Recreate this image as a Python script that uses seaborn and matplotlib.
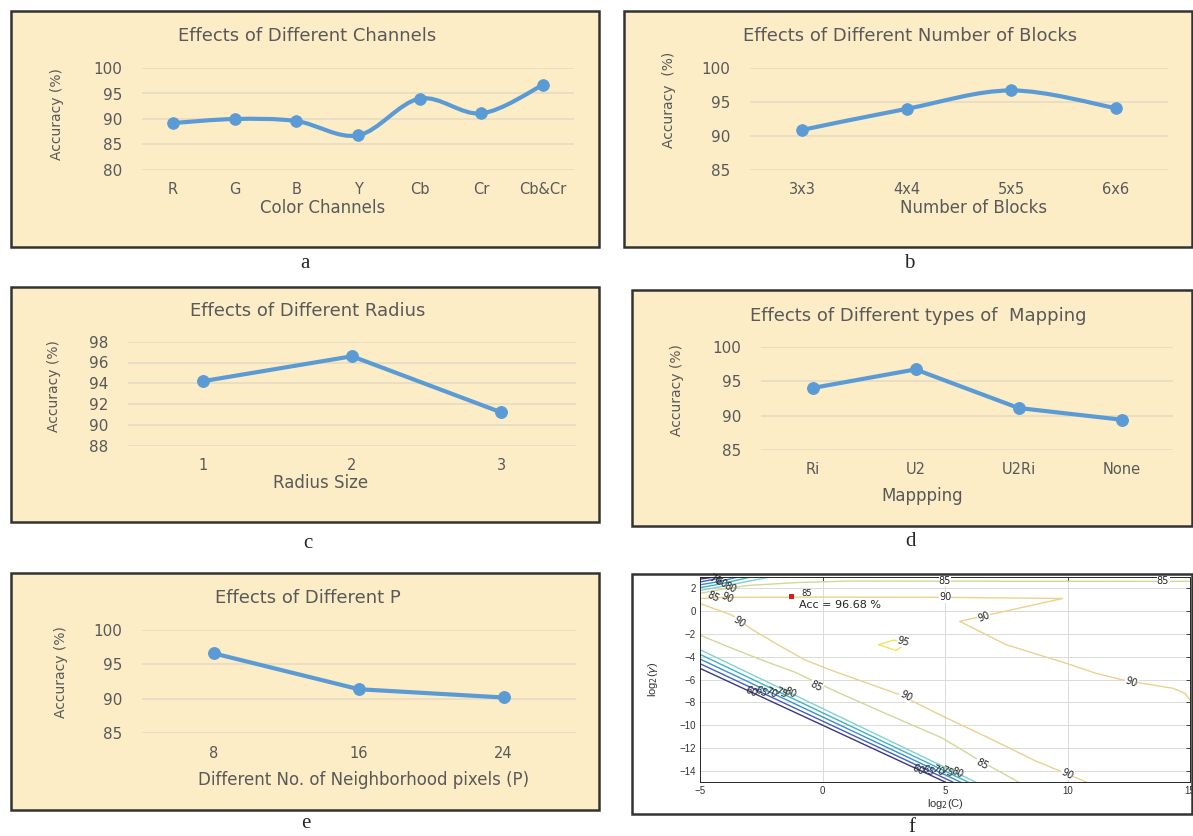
import numpy as np
import pandas as pd
import matplotlib
matplotlib.use('Agg')
import matplotlib.pyplot as plt
from matplotlib.patches import Rectangle, PathPatch
from matplotlib.path import Path
import seaborn as sns

# ---- data ----
# a: colour channels
channels = ['R', 'G', 'B', 'Y', 'Cb', 'Cr', 'Cb&Cr']
channel_acc = [89.2, 90.0, 89.6, 86.8, 94.0, 91.1, 96.7]
# b: number of blocks
blocks = ['3x3', '4x4', '5x5', '6x6']
block_acc = [90.9, 94.0, 96.7, 94.1]
# c: radius
radius = ['1', '2', '3']
radius_acc = [94.2, 96.6, 91.2]
# d: mapping type
mappings = ['Ri', 'U2', 'U2Ri', 'None']
mapping_acc = [94.0, 96.7, 91.1, 89.4]
# e: neighbourhood pixels
neighbors = ['8', '16', '24']
neighbor_acc = [96.6, 91.4, 90.2]

# f: contour lines of the grid search, points as (log2 C, log2 gamma)
c60 = [[(-5, -5.02), (5.03, -15)],
       [(-5, 2.8), (-4.6, 2.92), (-4.3, 3.0)]]
c65 = [[(-5, -4.61), (5.34, -15)],
       [(-5, 2.55), (-4.5, 2.75), (-3.9, 3.0)]]
c70 = [[(-5, -4.2), (5.65, -15)],
       [(-5, 2.3), (-4.3, 2.55), (-3.4, 3.0)]]
c75 = [[(-5, -3.79), (5.96, -15)],
       [(-5, 2.05), (-4.2, 2.35), (-2.9, 3.0)]]
c80 = [[(-5, -3.38), (6.27, -15)],
       [(-5, 1.8), (-4.1, 2.15), (-2.1, 3.0)]]
c85 = [[(-5, -2.1), (-3.86, -3.12), (-2.49, -4.28), (-1.13, -5.35), (0.5, -7.0),
        (2.39, -8.8), (4.87, -11.1), (6.5, -13.2), (8.02, -15)],
       [(-5, 1.55), (-4.0, 1.95), (-3.0, 2.25), (-1, 2.5), (1, 2.62), (15, 2.6)]]
c90 = [[(-5, 0.66), (-3.7, -0.36), (-2.83, -1.67), (-1.8, -2.97), (-0.72, -4.28),
        (0.5, -5.3), (3.12, -7.3), (4.9, -9.2), (6.77, -11.1), (8.67, -13.1), (10.8, -15)],
       [(-5, 1.1), (-4, 1.2), (0, 1.22), (5, 1.2), (9.8, 1.1), (5.6, -0.9), (7.5, -2.95),
        (8.85, -3.85), (9.94, -4.57), (11.16, -5.45), (12.38, -6.1), (14.3, -6.76),
        (14.8, -7.2), (15, -7.8)]]
c95 = [[(2.3, -2.95), (2.9, -2.55), (3.5, -2.75), (3.0, -3.45), (2.3, -2.95)]]
best_c, best_g = [-1.25], [1.3]

# ---- layout helpers (pixel space of a 1193x836 picture) ----
W, H = 1193, 836
BLUE = '#5b9bd5'
GRAY = '#595959'
CREAM = '#fcedc6'
GRID = '#e6dcc3'

sns.set_theme(style='white')
plt.rcParams['font.family'] = ['DejaVu Sans']

fig = plt.figure(figsize=(W / 100, H / 100), dpi=100)
fig.patch.set_facecolor('white')


def px_axes(l, t, r, b):
    return fig.add_axes([l / W, 1 - b / H, (r - l) / W, (b - t) / H])


def box(l, t, r, b, fc):
    fig.add_artist(Rectangle((l / W, 1 - b / H), (r - l) / W, (b - t) / H,
                             transform=fig.transFigure, fc=fc, ec='#333333',
                             lw=1.8, zorder=0))


def ftext(x, y, s, **kw):
    fig.text(x / W, 1 - y / H, s, ha='center', va='center', **kw)


def smooth_path(xs, ys):
    # Excel style smoothed line (Catmull-Rom as cubic Bezier)
    pts = np.column_stack([xs, ys]).astype(float)
    verts, codes = [pts[0]], [Path.MOVETO]
    n = len(pts)
    for i in range(n - 1):
        p0, p1, p2, p3 = pts[max(i - 1, 0)], pts[i], pts[i + 1], pts[min(i + 2, n - 1)]
        verts += [p1 + (p2 - p0) / 6, p2 - (p3 - p1) / 6, p2]
        codes += [Path.CURVE4] * 3
    return Path(verts, codes)


def excel_panel(rect, cats, vals, yticks, smooth=False):
    ax = px_axes(*rect)
    ax.set_facecolor('none')
    df = pd.DataFrame({'pos': range(len(cats)), 'acc': vals})
    if smooth:
        ax.add_patch(PathPatch(smooth_path(df['pos'], df['acc']), fill=False,
                               ec=BLUE, lw=3, zorder=3))
        sns.scatterplot(data=df, x='pos', y='acc', ax=ax, color=BLUE, s=70,
                        edgecolor=BLUE, zorder=4)
    else:
        sns.lineplot(data=df, x='pos', y='acc', ax=ax, color=BLUE, linewidth=3,
                     marker='o', markersize=8.5, markeredgecolor=BLUE, zorder=3)
    ax.set_xlim(-0.5, len(cats) - 0.5)
    ax.set_ylim(yticks[0], yticks[-1])
    ax.set_xticks(range(len(cats)))
    ax.set_xticklabels(cats)
    ax.set_yticks(yticks)
    ax.set_xlabel('')
    ax.set_ylabel('')
    ax.grid(axis='y', color=GRID, lw=1.2)
    ax.grid(axis='x', visible=False)
    ax.set_axisbelow(True)
    for s in ax.spines.values():
        s.set_visible(False)
    ax.tick_params(axis='x', length=0, pad=9, labelsize=10.5, labelcolor=GRAY)
    ax.tick_params(axis='y', length=0, pad=14, labelsize=11, labelcolor=GRAY)
    for lab in ax.get_yticklabels():
        lab.set_clip_on(False)
    return ax


# ---- a ----
box(11, 11, 599, 247, CREAM)
excel_panel((142, 68, 574, 170), channels, channel_acc, [80, 85, 90, 95, 100], smooth=True)
ftext(307, 36, 'Effects of Different Channels', fontsize=13, color=GRAY)
ftext(323, 208, 'Color Channels', fontsize=12, color=GRAY)
ftext(57, 114, 'Accuracy (%)', fontsize=10, color=GRAY, rotation=90)
ftext(305, 263, 'a', fontsize=15, family='Liberation Serif')

# ---- b ----
box(624, 11, 1192, 247, CREAM)
excel_panel((750, 68, 1168, 170), blocks, block_acc, [85, 90, 95, 100], smooth=True)
ftext(910, 36, 'Effects of Different Number of Blocks', fontsize=13, color=GRAY)
ftext(974, 208, 'Number of Blocks', fontsize=12, color=GRAY)
ftext(669, 100, 'Accuracy  (%)', fontsize=10, color=GRAY, rotation=90)
ftext(909, 263, 'b', fontsize=15, family='Liberation Serif')

# ---- c ----
box(11, 287, 599, 522, CREAM)
excel_panel((128, 341.7, 576, 445.7), radius, radius_acc, [88, 90, 92, 94, 96, 98])
ftext(308, 311, 'Effects of Different Radius', fontsize=13, color=GRAY)
ftext(321, 483, 'Radius Size', fontsize=12, color=GRAY)
ftext(54, 386, 'Accuracy (%)', fontsize=10, color=GRAY, rotation=90)
ftext(308, 544, 'c', fontsize=15, family='Liberation Serif')

# ---- d ----
box(632, 290, 1192, 526, CREAM)
excel_panel((761, 346.7, 1173, 450), mappings, mapping_acc, [85, 90, 95, 100])
ftext(918, 316, 'Effects of Different types of  Mapping', fontsize=13, color=GRAY)
ftext(922, 496, 'Mappping', fontsize=12, color=GRAY)
ftext(677, 390, 'Accuracy (%)', fontsize=10, color=GRAY, rotation=90)
ftext(910, 542, 'd', fontsize=15, family='Liberation Serif')

# ---- e ----
box(11, 573, 599, 810, CREAM)
excel_panel((141.6, 630, 576, 733.3), neighbors, neighbor_acc, [85, 90, 95, 100])
ftext(308, 598, 'Effects of Different P', fontsize=13, color=GRAY)
ftext(364, 780, 'Different No. of Neighborhood pixels (P)', fontsize=12, color=GRAY)
ftext(61, 672, 'Accuracy (%)', fontsize=10, color=GRAY, rotation=90)
ftext(306, 823, 'e', fontsize=15, family='Liberation Serif')

# ---- f: contour map ----
box(632, 574, 1192, 814, 'white')
axf = px_axes(700, 576.8, 1190, 782.3)
axf.set_facecolor('white')

rows = []
for level, paths in [(60, c60), (65, c65), (70, c70), (75, c75), (80, c80),
                     (85, c85), (90, c90), (95, c95)]:
    for k, path in enumerate(paths):
        for order, (xv, yv) in enumerate(path):
            rows.append({'level': level, 'path': f'{level}-{k}', 'order': order,
                         'x': xv, 'y': yv})
cdf = pd.DataFrame(rows)
level_colors = {60: '#3d3587', 65: '#3f5fbf', 70: '#3b8fd0', 75: '#3cb2c6',
                80: '#82d2cc', 85: '#d3d896', 90: '#ead28c', 95: '#f2e25c'}
sns.lineplot(data=cdf, x='x', y='y', hue='level', units='path', estimator=None,
             sort=False, palette=level_colors, linewidth=1.0, legend=False, ax=axf)

lab_kw = dict(fontsize=7, color='#222222', ha='center', va='center',
              rotation_mode='anchor')
box_kw = dict(fc='white', ec='none', pad=0.2)
for s, xv, yv, rot in [('85', 5.0, 2.62, 0), ('85', 13.9, 2.6, 0), ('90', 5.0, 1.2, 0),
                       ('90', 6.6, -0.55, 22), ('90', 12.6, -6.2, -20),
                       ('95', 3.3, -2.7, -15), ('90', -3.4, -0.95, -35),
                       ('90', 3.4, -7.45, -28), ('90', 10.0, -14.25, -28),
                       ('85', -0.25, -6.55, -28), ('85', 6.5, -13.4, -28)]:
    axf.text(xv, yv, s, rotation=rot, bbox=box_kw, **lab_kw)
for s, xv, yv in [('60', -2.9, -7.11), ('65', -2.5, -7.12), ('70', -2.1, -7.14),
                  ('75', -1.7, -7.17), ('80', -1.3, -7.19),
                  ('60', 3.9, -13.88), ('65', 4.3, -13.96), ('70', 4.7, -14.04),
                  ('75', 5.1, -14.12), ('80', 5.5, -14.21),
                  ('70', -4.4, 2.7), ('60', -4.15, 2.5), ('80', -3.75, 2.0),
                  ('85', -4.45, 1.2), ('90', -3.9, 1.15)]:
    axf.text(xv, yv, s, rotation=-25, **lab_kw)

sns.scatterplot(x=best_c, y=best_g, ax=axf, color='#d62020', marker='s', s=14,
                edgecolor='none', zorder=5)
axf.text(-0.85, 1.5, '85', fontsize=6, color='#222222', ha='left', va='center')
axf.text(-0.95, 0.55, 'Acc = 96.68 %', fontsize=8, color='#222222', ha='left',
         va='center')

axf.set_xlim(-5, 15)
axf.set_ylim(-15, 3)
axf.set_xticks([-5, 0, 5, 10, 15])
axf.set_yticks(list(range(-14, 3, 2)))
axf.grid(True, color='#dadada', lw=0.7)
axf.set_axisbelow(True)
for s in axf.spines.values():
    s.set_color('#262626')
    s.set_linewidth(0.7)
axf.tick_params(direction='in', length=3, width=0.6, top=True, right=True,
                labelsize=7, labelcolor='#333333', pad=3)
for lab in axf.get_xticklabels() + axf.get_yticklabels():
    lab.set_family('Liberation Sans')
axf.set_xlabel('')
axf.set_ylabel('')
ftext(945, 804, r'log$_2$(C)', fontsize=8, color='#333333', family='Liberation Sans')
ftext(653, 679, r'log$_2$($\gamma$)', fontsize=8, color='#333333', rotation=90,
      family='Liberation Sans')
ftext(912, 828, 'f', fontsize=15, family='Liberation Serif')

fig.savefig('out.png', dpi=100, facecolor='white')
